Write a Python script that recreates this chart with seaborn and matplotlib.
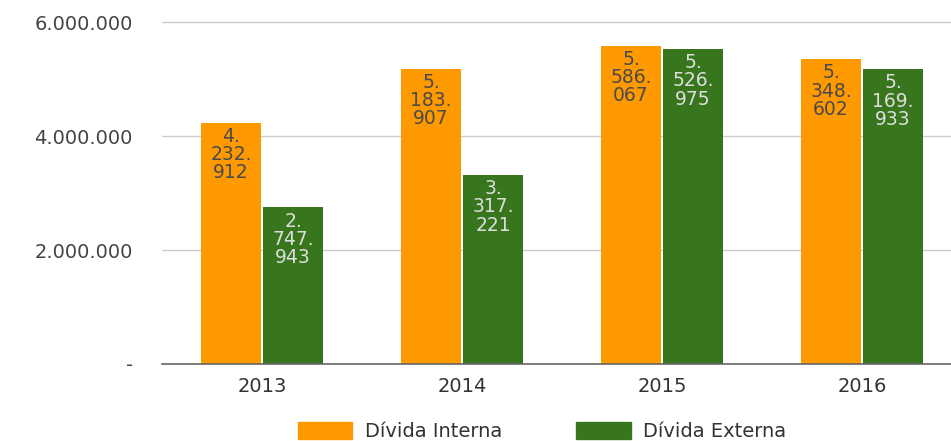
import matplotlib
matplotlib.use("Agg")
import matplotlib.pyplot as plt
import seaborn as sns
import pandas as pd

anos = ["2013", "2014", "2015", "2016"]
divida_interna = [4232912, 5183907, 5586067, 5348602]
divida_externa = [2747943, 3317221, 5526975, 5169933]
series = ["Dívida Interna", "Dívida Externa"]
yticks = [0, 2000000, 4000000, 6000000]
ytick_labels = ["-", "2.000.000", "4.000.000", "6.000.000"]

cores = ["#FF9900", "#38761D"]
cor_texto = ["#4A4A4A", "#DDDDDD"]

df = pd.DataFrame({
	"ano": anos * 2,
	"valor": divida_interna + divida_externa,
	"serie": [series[0]] * len(anos) + [series[1]] * len(anos),
})

sns.set_style("white")
plt.rcParams["font.family"] = ["DejaVu Sans"]

fig = plt.figure(figsize=(9.51, 4.41), dpi=100)
ax = fig.add_axes([162 / 951, 77 / 441, 800 / 951, 344.85 / 441])

sns.barplot(data=df, x="ano", y="valor", hue="serie", palette=cores, saturation=1,
	width=0.62, gap=0.03, linewidth=0, ax=ax, legend=False)

ax.set_xlim(-0.5, 3.5)
ax.set_ylim(0, 6050000)
ax.set_yticks(yticks)
ax.set_yticklabels(ytick_labels)
ax.set_xlabel("")
ax.set_ylabel("")
ax.yaxis.grid(True, color="#CCCCCC", linewidth=1)
ax.set_axisbelow(True)
for s in ["left", "right", "top"]:
	ax.spines[s].set_visible(False)
ax.spines["bottom"].set_color("#666666")
ax.spines["bottom"].set_linewidth(1.2)
ax.tick_params(axis="y", length=0, pad=21, labelsize=14, labelcolor="#444444")
ax.tick_params(axis="x", length=0, pad=9, labelsize=14, labelcolor="#333333")

# rotulos dentro das barras, quebrados a cada ponto
for i, cont in enumerate(ax.containers):
	for bar in cont:
		v = bar.get_height()
		txt = f"{v:,.0f}".replace(",", ".").replace(".", ".\n")
		ax.annotate(txt, (bar.get_x() + bar.get_width() / 2, v),
			xytext=(0, -3), textcoords="offset points",
			ha="center", va="top", fontsize=13.5, color=cor_texto[i],
			linespacing=0.95)

handles = [plt.Rectangle((0, 0), 1, 1, color=c) for c in cores]
fig.legend(handles, series, loc="upper left", bbox_to_anchor=(298 / 951, 1 - 422 / 441),
	ncol=2, frameon=False, fontsize=14, handlelength=2.8, handleheight=1.0,
	handletextpad=0.65, columnspacing=3.8, borderpad=0, borderaxespad=0,
	labelcolor="#333333")

fig.savefig("out.png", dpi=100)
